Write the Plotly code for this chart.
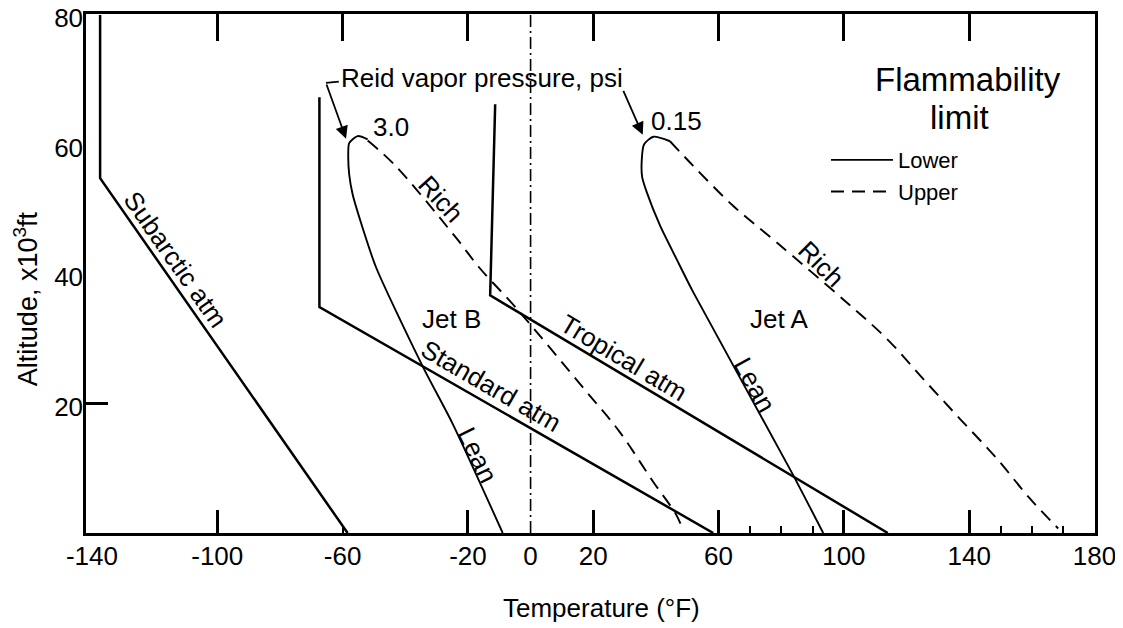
import plotly.graph_objects as go

# ---------------- data ----------------
subarctic_T = [-137.4, -137.4, -58.4]
subarctic_alt = [80, 54.8, 0]

standard_T = [-67.4, -67.4, 58.3]
standard_alt = [67.3, 34.9, 0]

tropical_T = [-11.3, -12.9, 114.0]
tropical_alt = [66.2, 36.7, 0]

zero_T = [0, 0]
zero_alt = [0, 80]

jetB_lean_T = [-52.0, -55.2, -57.9, -58.2, -57.9, -56.8, -53.6, -49.3, -34.4, -24.9, -8.9]
jetB_lean_alt = [60.8, 61.3, 60.2, 58.4, 55.4, 52.3, 47.1, 41.0, 25.7, 16.9, 0]

jetB_rich_T = [-52.0, -43.5, -23.8, -16.4, -4.7, 17.7, 28.3, 39.0, 46.4, 48.2]
jetB_rich_alt = [60.6, 56.9, 45.6, 41.0, 34.8, 21.9, 15.7, 8.0, 2.9, 1.0]

jetA_lean_T = [44.5, 39.2, 36.2, 35.5, 35.6, 37.1, 41.3, 46.6, 51.9, 83.3, 93.4]
jetA_lean_alt = [60.5, 61.2, 60.0, 57.7, 55.0, 52.6, 47.5, 42.3, 37.2, 9.4, 0]

jetA_rich_T = [44.5, 51.9, 64.7, 78.5, 100.9, 113.7, 125.3, 137.1, 148.8, 159.4, 168.4]
jetA_rich_alt = [60.5, 56.7, 50.5, 44.9, 35.6, 30.0, 23.8, 17.6, 11.5, 5.3, 0.7]

x_label_vals = [-140, -100, -60, -20, 0, 20, 60, 100, 140, 180]
x_label_text = ["-140", "-100", "-60", "-20", "0", "20", "60", "100", "140", "180"]
x_bottom_major = [-100, -20, 20, 60, 100, 140]
x_bottom_minor = [-60, 70, 80, 90, 150, 160, 170]
x_top_ticks = [-100, -60, -20, 20, 60, 100, 140]
y_label_vals = [20, 40, 60, 80]
y_tick_vals = [20]

X_RANGE = [-141.9, 180.15]
Y_RANGE = [0, 80.15]

FONT = "Liberation Sans, Arial, Helvetica, sans-serif"
BLACK = "#000000"

fig = go.Figure()

atm_style = dict(color=BLACK, width=2.5)
for T, A, nm in [(subarctic_T, subarctic_alt, "Subarctic atm"),
                 (standard_T, standard_alt, "Standard atm"),
                 (tropical_T, tropical_alt, "Tropical atm")]:
    fig.add_trace(go.Scatter(x=T, y=A, mode="lines", line=atm_style,
                             name=nm, showlegend=False, hoverinfo="skip"))

fig.add_trace(go.Scatter(x=zero_T, y=zero_alt, mode="lines",
                         line=dict(color=BLACK, width=1.6, dash="12px,4px,2px,4px"),
                         showlegend=False, hoverinfo="skip"))

lean_style = dict(color=BLACK, width=1.9, shape="spline", smoothing=0.7)
rich_style = dict(color=BLACK, width=1.9, shape="spline", smoothing=1.0, dash="13px,8px")

fig.add_trace(go.Scatter(x=jetB_lean_T, y=jetB_lean_alt, mode="lines", line=lean_style,
                         name="Lower", legendgroup="lower", showlegend=True, hoverinfo="skip"))
fig.add_trace(go.Scatter(x=jetB_rich_T, y=jetB_rich_alt, mode="lines", line=rich_style,
                         name="Upper", legendgroup="upper", showlegend=True, hoverinfo="skip"))
fig.add_trace(go.Scatter(x=jetA_lean_T, y=jetA_lean_alt, mode="lines", line=lean_style,
                         name="Lower", legendgroup="lower", showlegend=False, hoverinfo="skip"))
fig.add_trace(go.Scatter(x=jetA_rich_T, y=jetA_rich_alt, mode="lines", line=rich_style,
                         name="Upper", legendgroup="upper", showlegend=False, hoverinfo="skip"))

# empty helper traces so the overlay axes (labels / bottom ticks / y tick) are drawn
for xa, ya in [("x2", "y"), ("x3", "y"), ("x", "y2")]:
    fig.add_trace(go.Scatter(x=[None], y=[None], xaxis=xa, yaxis=ya, mode="lines",
                             showlegend=False, hoverinfo="skip"))

# ---------------- annotations ----------------
def label(text, x, y, angle=0, size=26):
    fig.add_annotation(x=x, y=y, xref="x", yref="y", text=text, showarrow=False,
                       textangle=angle, font=dict(family=FONT, size=size, color=BLACK))

label("Subarctic atm", -113.2, 42.2, 55)
label("Standard atm", -12.6, 22.7, 30)
label("Tropical atm", 29.8, 27.1, 31)
label("Jet B", -25.2, 33.1)
label("Lean", -16.9, 12.1, 64)
label("Rich", -28.6, 51.6, 48)
label("3.0", -44.6, 62.7)
label("Jet A", 79.2, 33.1)
label("Lean", 71.6, 22.9, 61)
label("Rich", 92.7, 41.5, 45)
label("0.15", 46.6, 63.6)
label("Reid vapor pressure, psi", -15.6, 70.3, size=26)

# arrows from the Reid vapor pressure caption
fig.add_annotation(x=-58.9, y=60.9, ax=-65.3, ay=69.5, xref="x", yref="y", axref="x", ayref="y",
                   text="", showarrow=True, arrowhead=2, arrowsize=1.4, arrowwidth=1.8,
                   arrowcolor=BLACK)
fig.add_shape(type="line", x0=-65.3, y0=69.5, x1=-61.2, y1=69.7, xref="x", yref="y",
              line=dict(color=BLACK, width=1.8))
fig.add_annotation(x=35.8, y=61.5, ax=29.4, ay=68.5, xref="x", yref="y", axref="x", ayref="y",
                   text="", showarrow=True, arrowhead=2, arrowsize=1.4, arrowwidth=1.8,
                   arrowcolor=BLACK)

# positions below are given in screen pixels of the reference and converted to paper units
PLOT_L, PLOT_B, PLOT_W, PLOT_H = 86, 532.7, 1009, 518.7
def px2paper(px, py):
    return (px - PLOT_L) / PLOT_W, (PLOT_B - py) / PLOT_H

for txt, (px, py) in [("Flammability", (967.7, 79.7)), ("limit", (959.3, 117.3))]:
    xp, yp = px2paper(px, py)
    fig.add_annotation(x=xp, y=yp, xref="paper", yref="paper", text=txt, showarrow=False,
                       xanchor="center", yanchor="middle",
                       font=dict(family=FONT, size=33, color=BLACK))

# axis titles
xp, yp = px2paper(601.7, 608)
fig.add_annotation(x=xp, y=yp, xref="paper", yref="paper", text="Temperature (°F)",
                   showarrow=False, xanchor="center", yanchor="middle",
                   font=dict(family=FONT, size=26, color=BLACK))
xp, yp = px2paper(26, 299)
fig.add_annotation(x=xp, y=yp, xref="paper", yref="paper",
                   text="Altitude, x10<sup>3</sup>ft", textangle=-90,
                   showarrow=False, xanchor="center", yanchor="middle",
                   font=dict(family=FONT, size=27, color=BLACK))

# ---------------- axes ----------------
common = dict(showgrid=False, zeroline=False, automargin=False)
lx, ly = px2paper(826, 139)
fig.update_layout(
    width=1123, height=628,
    margin=dict(l=78, r=36, t=6, b=103, autoexpand=False),
    paper_bgcolor="white", plot_bgcolor="white",
    font=dict(family=FONT, color=BLACK),
    # main x axis on the top: frame line plus the long inside ticks hanging from the top
    xaxis=dict(range=X_RANGE, side="top", tickmode="array", tickvals=x_top_ticks,
               ticks="inside", ticklen=27, tickwidth=2.5, tickcolor=BLACK,
               showticklabels=False, showline=True, mirror=True, linewidth=2.5,
               linecolor=BLACK, layer="above traces", **common),
    # overlay x axis: the tick labels at the bottom
    xaxis2=dict(range=X_RANGE, overlaying="x", anchor="y", side="bottom", tickmode="array",
                tickvals=x_label_vals, ticktext=x_label_text, ticks="", showline=False,
                tickfont=dict(size=26, family=FONT, color=BLACK), ticklabelstandoff=5,
                ticklabeloverflow="allow", **common),
    # overlay x axis: bottom inside ticks (long and short)
    xaxis3=dict(range=X_RANGE, overlaying="x", anchor="y", side="bottom", tickmode="array",
                tickvals=x_bottom_major, ticks="inside", ticklen=23, tickwidth=2.5,
                tickcolor=BLACK, showticklabels=False, showline=False,
                minor=dict(tickmode="array", tickvals=x_bottom_minor, ticks="inside", ticklen=7,
                           tickwidth=2, tickcolor=BLACK, showgrid=False),
                **common),
    yaxis=dict(range=Y_RANGE, tickmode="array", tickvals=y_label_vals, ticks="",
               showline=True, mirror=True, linewidth=2.5, linecolor=BLACK,
               tickfont=dict(size=26, family=FONT, color=BLACK), ticklabelstandoff=-5,
               ticklabelshift=3, ticklabeloverflow="allow", **common),
    yaxis2=dict(range=Y_RANGE, overlaying="y", anchor="x", side="left", tickmode="array",
                tickvals=y_tick_vals, ticks="inside", ticklen=22, tickwidth=2.5, tickcolor=BLACK,
                showticklabels=False, showline=False, **common),
    legend=dict(x=lx, y=ly, xanchor="left", yanchor="top", bgcolor="rgba(0,0,0,0)",
                font=dict(family=FONT, size=22, color=BLACK), tracegroupgap=0, itemwidth=62),
)

fig.write_html("out.html")
